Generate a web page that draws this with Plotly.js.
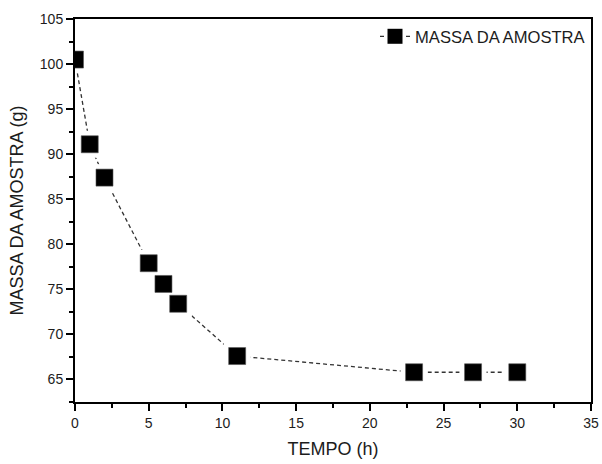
<!DOCTYPE html>
<html>
<head>
<meta charset="utf-8">
<script src="https://cdn.plot.ly/plotly-3.0.1.min.js"></script>
<style>
  html, body { margin: 0; padding: 0; background: #ffffff; }
  #chart { width: 602px; height: 464px; }
</style>
</head>
<body>
<div id="chart"></div>
<script>
// Sample mass measured over drying time
const tempoHoras = [0, 1, 2, 5, 6, 7, 11, 23, 27, 30];
const massaAmostra = [100.5, 91.1, 87.4, 77.9, 75.6, 73.4, 67.6, 65.8, 65.8, 65.8];
const serieNome = 'MASSA DA AMOSTRA';
const xTitulo = 'TEMPO (h)';
const yTitulo = 'MASSA DA AMOSTRA (g)';

const fonte = 'Liberation Sans, Arial, sans-serif';
const tinta = '#1c1c1c';

const traces = [
  // dashed connector between measurements
  {
    x: tempoHoras, y: massaAmostra, mode: 'lines', showlegend: false, hoverinfo: 'skip',
    line: { color: '#333333', width: 1.3, dash: '4px,3px' }
  },
  // white halo so the dashes stop short of each marker
  {
    x: tempoHoras, y: massaAmostra, mode: 'markers', showlegend: false, hoverinfo: 'skip',
    marker: { symbol: 'square', size: 27, color: '#ffffff', line: { width: 0 } }
  },
  // measured points
  {
    x: tempoHoras, y: massaAmostra, mode: 'markers', showlegend: false,
    marker: { symbol: 'square', size: 17, color: '#000000', line: { color: '#555555', width: 0.6 } }
  },
  // legend entry: "- ■ -"
  {
    x: [null], y: [null], mode: 'lines+markers', name: serieNome,
    line: { color: '#333333', width: 1.3, dash: '4px,22px' },
    marker: { symbol: 'square', size: 15, color: '#000000' }
  }
];

const eixoComum = {
  showline: true, linecolor: '#000000', linewidth: 2, mirror: true,
  ticks: 'outside', ticklen: 7, tickwidth: 2, tickcolor: '#000000',
  showgrid: false, zeroline: false,
  tickfont: { family: fonte, size: 14, color: tinta },
  automargin: false
};

const layout = {
  width: 602, height: 464,
  margin: { l: 75, r: 11, t: 19, b: 62 },
  paper_bgcolor: '#ffffff', plot_bgcolor: '#ffffff',
  showlegend: true,
  legend: {
    x: 1, xanchor: 'right', y: 1, yanchor: 'top',
    bgcolor: 'rgba(0,0,0,0)', borderwidth: 0,
    font: { family: fonte, size: 16.6, color: tinta },
    itemsizing: 'trace'
  },
  xaxis: Object.assign({}, eixoComum, {
    range: [0, 35], dtick: 5, tick0: 0,
    minor: { dtick: 2.5, ticks: 'outside', ticklen: 4, tickwidth: 2, tickcolor: '#000000' },
    title: { text: xTitulo, font: { family: fonte, size: 18, color: tinta }, standoff: 13 }
  }),
  yaxis: Object.assign({}, eixoComum, {
    range: [62.5, 105], dtick: 5, tick0: 0,
    minor: { dtick: 2.5, ticks: 'outside', ticklen: 4, tickwidth: 2, tickcolor: '#000000' },
    title: { text: yTitulo, font: { family: fonte, size: 18, color: tinta }, standoff: 12 }
  })
};

Plotly.newPlot('chart', traces, layout, { displayModeBar: false, staticPlot: true });
</script>
</body>
</html>
